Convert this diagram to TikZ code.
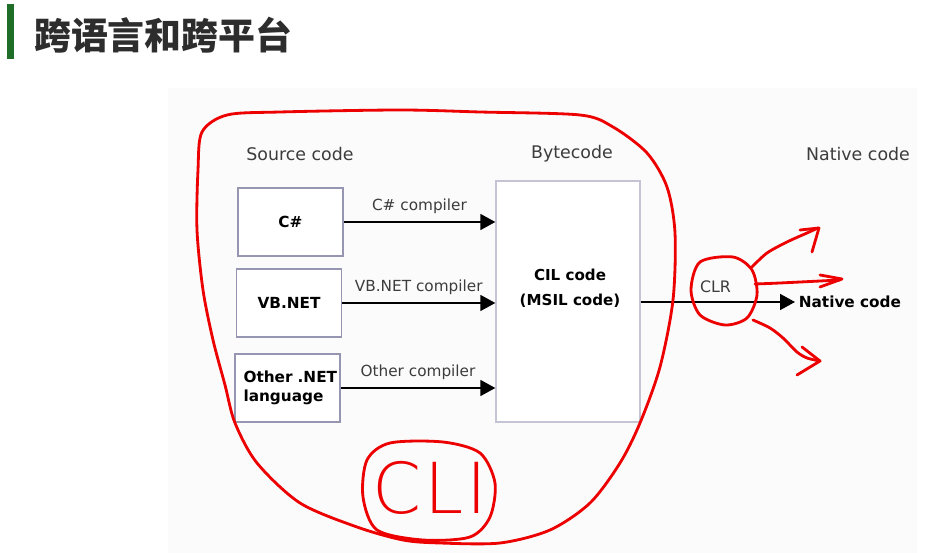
\documentclass[tikz,border=0pt]{standalone}
\usepackage{fontspec}
\setmainfont{DejaVu Sans}
\newfontfamily\cjk{Noto Sans CJK SC}
\newfontfamily\penfont{DejaVu Sans ExtraLight}[LetterSpace=4]
\usepackage{xcolor}
\usetikzlibrary{positioning,arrows.meta}

\definecolor{titlegreen}{RGB}{30,110,40}
\definecolor{titlegray}{RGB}{45,45,45}
\definecolor{boxline}{RGB}{150,150,178}
\definecolor{cilline}{RGB}{196,196,212}
\definecolor{textgray}{RGB}{60,60,60}
\definecolor{pen}{RGB}{236,0,0}

\begin{document}
\begin{tikzpicture}[x=0.02cm, y=-0.02cm,
    srcbox/.style={rectangle, draw=boxline, fill=white, line width=0.8pt, minimum width=2.1cm, minimum height=1.36cm, inner sep=1pt, font=\fontsize{8.7}{11}\selectfont\bfseries},
    cilbox/.style={rectangle, draw=cilline, fill=white, line width=0.8pt, minimum width=2.88cm, minimum height=4.82cm},
    header/.style={text=textgray, font=\fontsize{9.9}{12}\selectfont},
    complabel/.style={text=textgray, font=\fontsize{8.7}{10}\selectfont, above=1pt},
    arrow/.style={-{Triangle[length=0.3cm, width=0.32cm]}, line width=1pt},
    redpen/.style={draw=pen, line width=1.6pt, line cap=round, line join=round}]

\useasboundingbox (0,0) rectangle (934,553);
\fill[black!1.5] (168,88) rectangle (917,553);

% Title
\fill[titlegreen] (7,4) rectangle (14,59);
\node[anchor=west, text=titlegray, font=\cjk\bfseries\fontsize{21}{21}\selectfont] (title) at (28,35.5) {跨语言和跨平台};

% Column headers
\node[header] (srchead) at (300,154) {Source code};
\node[header] (bytehead) at (572,154) {Bytecode};
\node[header] (nathead) at (858,154) {Native code};

% Source languages
\node[srcbox] (cs) at (290.5,222) {C\#};
\node[srcbox] (vb) at (289,303) {VB.NET};
\node[srcbox, align=left, text width=1.76cm] (oth) at (287.5,388) {Other~.NET\\language};

% Bytecode
\node[cilbox] (cil) at (568,301.5) {};
\node[align=center, font=\fontsize{8.6}{14}\selectfont\bfseries] (cilcode) at (570,288.5) {CIL code\\(MSIL code)};

% Compilers
\draw[arrow] (cs.east) -- (cs.east -| cil.west) node[complabel, midway] {C\# compiler};
\draw[arrow] (vb.east) -- (vb.east -| cil.west) node[complabel, midway] {VB.NET compiler};
\draw[arrow] (oth.east) -- (oth.east -| cil.west) node[complabel, midway] {Other compiler};

% Runtime
\node[anchor=west, inner sep=2pt, font=\fontsize{8.7}{10}\selectfont\bfseries] (natout) at (795,302) {Native code};
\node[text=textgray, font=\fontsize{9}{10}\selectfont] (clr) at (715.5,287) {CLR};
\draw[arrow] (cil.east |- natout.west) -- (natout.west);

% Red pen marks
\draw[redpen] plot[smooth cycle] coordinates {(202,132) (227,115) (280,112) (400,110) (480,112) (580,115) (613,127) (647,153) (667,187) (675,233) (673,300) (660,367) (640,423) (620,463) (590,503) (550,530) (500,543) (440,543) (403,540) (357,527) (300,503) (257,463) (235,423) (225,385) (213,340) (203,290) (197,230) (198,170)};
\node[text=pen, font=\penfont\fontsize{40}{40}\selectfont] (cli) at (430,488) {CLI};
\draw[redpen] plot[smooth cycle] coordinates {(390,443) (443,442) (480,453) (495,483) (490,517) (470,537) (423,540) (377,530) (363,497) (367,460)};
\draw[redpen] plot[smooth cycle] coordinates {(733,257) (752,270) (757,295) (747,318) (725,325) (700,315) (691,290) (700,262)};

\draw[redpen] plot[smooth] coordinates {(752,267) (767,253) (787,242) (807,233) (818,228)};
\draw[redpen] (800,230) -- (819,228) -- (812,252);
\draw[redpen] plot[smooth] coordinates {(755,284) (780,283) (840,280)};
\draw[redpen] (820,275) -- (842,279) -- (820,287);
\draw[redpen] plot[smooth] coordinates {(753,320) (770,328) (783,338) (797,352) (807,358) (820,361)};
\draw[redpen] (802,347) -- (820,361) -- (797,375);

\end{tikzpicture}
\end{document}
